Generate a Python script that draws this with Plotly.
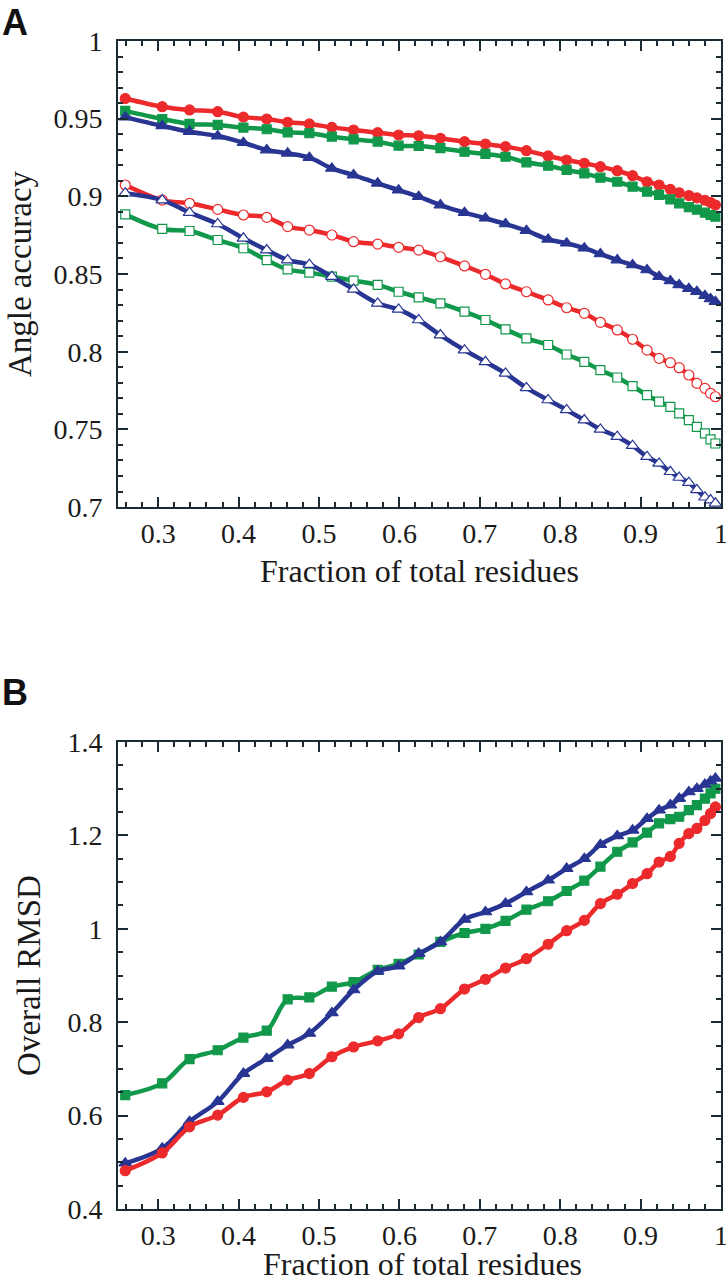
import plotly.graph_objects as go

# Shared x positions (fraction of total residues)
frac = [0.259, 0.305, 0.339, 0.374, 0.406, 0.435, 0.461, 0.488, 0.516, 0.543,
        0.573, 0.599, 0.624, 0.651, 0.681, 0.707, 0.732, 0.758, 0.785, 0.808,
        0.830, 0.850, 0.871, 0.890, 0.908, 0.923, 0.937, 0.948, 0.960, 0.970,
        0.980, 0.987, 0.993]

# Panel A: angle accuracy
a_red_filled = [0.963, 0.9577, 0.9556, 0.9545, 0.951, 0.9498, 0.9477, 0.9466, 0.9444, 0.9427,
                0.941, 0.9395, 0.939, 0.9374, 0.9352, 0.9337, 0.932, 0.9294, 0.926, 0.9234,
                0.9213, 0.9191, 0.9165, 0.9133, 0.9094, 0.9073, 0.9045, 0.9023, 0.9005, 0.899,
                0.8975, 0.896, 0.8944]
a_green_filled = [0.955, 0.9498, 0.9466, 0.946, 0.9442, 0.9432, 0.9412, 0.9406, 0.9384, 0.9367,
                  0.9352, 0.9326, 0.9324, 0.931, 0.9287, 0.9273, 0.9255, 0.9219, 0.9197, 0.917,
                  0.9148, 0.912, 0.9094, 0.9062, 0.903, 0.9009, 0.898, 0.8955, 0.893, 0.8915,
                  0.8895, 0.888, 0.8869]
a_blue_filled = [0.951, 0.9453, 0.9416, 0.9388, 0.9345, 0.9298, 0.9277, 0.9249, 0.918, 0.9137,
                 0.9084, 0.904, 0.8998, 0.8944, 0.8895, 0.8859, 0.8822, 0.8779, 0.8723, 0.8698,
                 0.8666, 0.8629, 0.859, 0.8558, 0.8526, 0.8483, 0.8455, 0.843, 0.8405, 0.8386,
                 0.836, 0.834, 0.8322]
a_red_open = [0.9073, 0.8976, 0.8955, 0.8916, 0.888, 0.8865, 0.8805, 0.8783, 0.8751, 0.8708,
              0.8693, 0.8672, 0.8654, 0.8611, 0.8552, 0.8498, 0.8436, 0.8386, 0.8333, 0.8283,
              0.8247, 0.8189, 0.814, 0.808, 0.801, 0.7957, 0.7929, 0.7897, 0.785, 0.7796,
              0.7764, 0.7732, 0.771]
a_green_open = [0.8884, 0.879, 0.8777, 0.8719, 0.8666, 0.859, 0.853, 0.8509, 0.8483, 0.8457,
                0.843, 0.8386, 0.835, 0.8311, 0.8258, 0.8204, 0.8144, 0.8086, 0.8043, 0.7982,
                0.7935, 0.7881, 0.7834, 0.7778, 0.772, 0.7678, 0.7645, 0.7603, 0.7559, 0.7516,
                0.7474, 0.7435, 0.7409]
a_blue_open = [0.902, 0.8976, 0.8895, 0.8822, 0.873, 0.8654, 0.859, 0.856, 0.8483, 0.8401,
               0.8311, 0.8272, 0.8204, 0.8107, 0.801, 0.7935, 0.786, 0.7767, 0.7689, 0.7625,
               0.756, 0.75, 0.7453, 0.7395, 0.7324, 0.7281, 0.7227, 0.719, 0.7157, 0.711,
               0.7063, 0.7045, 0.7024]

# Panel B: overall RMSD
b_green = [0.644, 0.669, 0.721, 0.740, 0.767, 0.782, 0.849, 0.853, 0.876, 0.886,
           0.912, 0.925, 0.945, 0.972, 0.991, 1.000, 1.017, 1.041, 1.059, 1.081,
           1.103, 1.133, 1.165, 1.185, 1.206, 1.226, 1.235, 1.240, 1.254, 1.265,
           1.279, 1.290, 1.300]
b_blue = [0.498, 0.530, 0.587, 0.630, 0.690, 0.722, 0.751, 0.776, 0.820, 0.869,
          0.909, 0.920, 0.947, 0.972, 1.020, 1.036, 1.054, 1.079, 1.104, 1.129,
          1.150, 1.180, 1.199, 1.211, 1.236, 1.254, 1.265, 1.279, 1.293, 1.300,
          1.309, 1.316, 1.322]
b_red = [0.482, 0.520, 0.576, 0.601, 0.639, 0.651, 0.676, 0.690, 0.726, 0.747,
         0.760, 0.775, 0.810, 0.829, 0.871, 0.892, 0.916, 0.936, 0.967, 0.996,
         1.018, 1.054, 1.074, 1.097, 1.118, 1.143, 1.155, 1.183, 1.204, 1.215,
         1.232, 1.247, 1.261]

RED = "#ec2a2c"
GREEN = "#11984a"
BLUE = "#283592"
AXIS = "#1b2b33"
FONT = "Liberation Serif"

fig = go.Figure()

SIZES = {"circle": 10, "square": 9, "triangle-up": 11}


def add(y, color, symbol, open_, xa, ya):
    fig.add_trace(go.Scatter(
        x=frac, y=y, mode="lines+markers", xaxis=xa, yaxis=ya,
        line=dict(color=color, width=4.5, shape="spline", smoothing=1.0),
        marker=dict(symbol=symbol, size=SIZES[symbol],
                    color="white" if open_ else color,
                    line=dict(color=color, width=1.2)),
        showlegend=False, cliponaxis=False))


add(a_red_filled, RED, "circle", False, "x", "y")
add(a_green_filled, GREEN, "square", False, "x", "y")
add(a_blue_filled, BLUE, "triangle-up", False, "x", "y")
add(a_red_open, RED, "circle", True, "x", "y")
add(a_green_open, GREEN, "square", True, "x", "y")
add(a_blue_open, BLUE, "triangle-up", True, "x", "y")

add(b_green, GREEN, "square", False, "x2", "y2")
add(b_blue, BLUE, "triangle-up", False, "x2", "y2")
add(b_red, RED, "circle", False, "x2", "y2")

xticks = [0.3, 0.4, 0.5, 0.6, 0.7, 0.8, 0.9, 1.0]
xlabels = ["0.3", "0.4", "0.5", "0.6", "0.7", "0.8", "0.9", "1"]
a_yticks = [0.7, 0.75, 0.8, 0.85, 0.9, 0.95, 1.0]
a_ylabels = ["0.7", "0.75", "0.8", "0.85", "0.9", "0.95", "1"]
b_yticks = [0.4, 0.6, 0.8, 1.0, 1.2, 1.4]
b_ylabels = ["0.4", "0.6", "0.8", "1", "1.2", "1.4"]

common = dict(showgrid=False, zeroline=False, showline=True, linecolor=AXIS,
              linewidth=2, mirror="ticks", ticks="inside", ticklen=10,
              tickwidth=1.5, tickcolor=AXIS, automargin=True,
              ticklabeloverflow="allow",
              tickfont=dict(family=FONT, size=28, color="#1a1a1a"))


def minor(d):
    return dict(dtick=d, tick0=0.0, ticks="inside", ticklen=5,
                tickcolor=AXIS, tickwidth=1.5)


fig.update_layout(
    width=726, height=1280,
    margin=dict(l=118, r=5, t=41, b=71, autoexpand=False),
    paper_bgcolor="white", plot_bgcolor="white",
    font=dict(family=FONT, color="#1a1a1a"),
    xaxis=dict(common, domain=[0, 1], range=[0.25, 1.0], anchor="y",
               tickvals=xticks, ticktext=xlabels, minor=minor(0.02),
               title=dict(text="Fraction of total residues",
                          font=dict(family=FONT, size=32), standoff=12)),
    yaxis=dict(common, domain=[0.601, 1.0], range=[0.7, 1.0], anchor="x",
               tickvals=a_yticks, ticktext=a_ylabels, minor=minor(0.01),
               ticklabelstandoff=8,
               title=dict(text="Angle accuracy",
                          font=dict(family=FONT, size=33), standoff=12)),
    xaxis2=dict(common, domain=[0, 1], range=[0.25, 1.0], anchor="y2",
                tickvals=xticks, ticktext=xlabels, minor=minor(0.02)),
    yaxis2=dict(common, domain=[0.0, 0.3998], range=[0.4, 1.4], anchor="x2",
                tickvals=b_yticks, ticktext=b_ylabels, minor=minor(0.05),
                ticklabelstandoff=8,
                title=dict(text="Overall RMSD",
                           font=dict(family=FONT, size=33), standoff=17)),
    annotations=[
        dict(text="<b>A</b>", x=0, y=1, xref="paper", yref="paper",
             xshift=-118, yshift=41, xanchor="left", yanchor="top",
             showarrow=False, font=dict(family="Liberation Sans", size=36, color="#111")),
        dict(text="<b>B</b>", x=0, y=0.3998, xref="paper", yref="paper",
             xshift=-118, yshift=72, xanchor="left", yanchor="top",
             showarrow=False, font=dict(family="Liberation Sans", size=36, color="#111")),
        dict(text="Fraction of total residues", x=0.5, y=0, xref="paper", yref="paper",
             xshift=3, yshift=-55, xanchor="center", yanchor="middle",
             showarrow=False, font=dict(family=FONT, size=32, color="#1a1a1a")),
    ],
)

fig.write_html("out.html",
               config={"displayModeBar": False},
               post_script="document.body.style.margin='0';document.body.style.overflow='hidden';")
